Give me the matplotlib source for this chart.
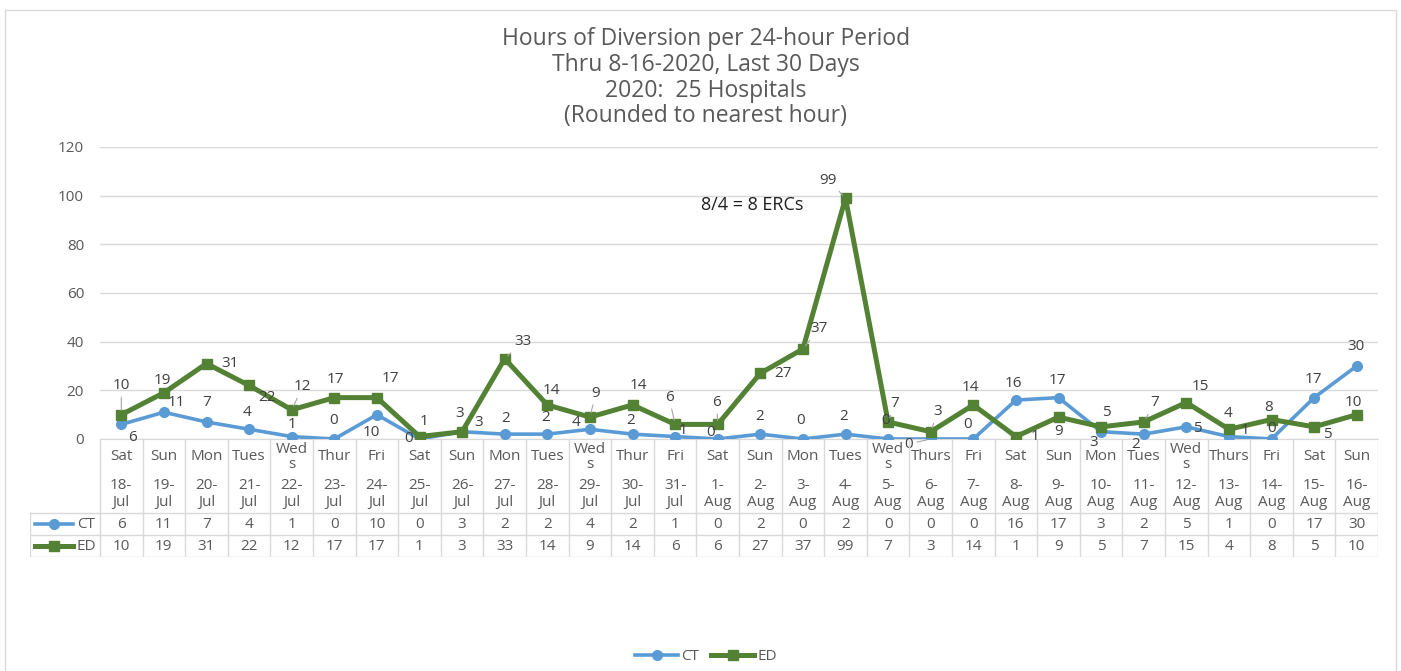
import matplotlib
matplotlib.use('Agg')
from matplotlib import pyplot as plt
from matplotlib.patches import Rectangle

plt.rcParams['font.family'] = ['Open Sans', 'DejaVu Sans']

# data
days = ['Sat', 'Sun', 'Mon', 'Tues', 'Weds', 'Thur', 'Fri', 'Sat', 'Sun', 'Mon',
        'Tues', 'Weds', 'Thur', 'Fri', 'Sat', 'Sun', 'Mon', 'Tues', 'Weds', 'Thurs',
        'Fri', 'Sat', 'Sun', 'Mon', 'Tues', 'Weds', 'Thurs', 'Fri', 'Sat', 'Sun']
dates = ['18-Jul', '19-Jul', '20-Jul', '21-Jul', '22-Jul', '23-Jul', '24-Jul', '25-Jul',
         '26-Jul', '27-Jul', '28-Jul', '29-Jul', '30-Jul', '31-Jul', '1-Aug', '2-Aug',
         '3-Aug', '4-Aug', '5-Aug', '6-Aug', '7-Aug', '8-Aug', '9-Aug', '10-Aug',
         '11-Aug', '12-Aug', '13-Aug', '14-Aug', '15-Aug', '16-Aug']
ct = [6, 11, 7, 4, 1, 0, 10, 0, 3, 2, 2, 4, 2, 1, 0, 2, 0, 2, 0, 0, 0, 16, 17, 3, 2, 5, 1, 0, 17, 30]
ed = [10, 19, 31, 22, 12, 17, 17, 1, 3, 33, 14, 9, 14, 6, 6, 27, 37, 99, 7, 3, 14, 1, 9, 5, 7, 15, 4, 8, 5, 10]

title = ('Hours of Diversion per 24-hour Period\nThru 8-16-2020, Last 30 Days\n'
         '2020:  25 Hospitals\n(Rounded to nearest hour)')
note = '8/4 = 8 ERCs'

# label offsets in pixels (dx right, dy down) as placed in the original chart
ct_off = [(11, 13), (13, -10), (0, -19), (-2, -17), (0, -12), (-1, -19), (-6, 18), (-11, 0),
          (17, -9), (1, -16), (-2, -17), (-14, -7), (-2, -14), (8, -6), (-7, -6), (-1, -18),
          (-2, -18), (-2, -18), (-3, -19), (-22, 5), (-6, -14), (-2, -17), (-1, -17), (-7, 11),
          (-8, 10), (11, 2), (16, -6), (0, -10), (-1, -18), (-1, -19)]
ed_off = [(0, -29), (-1, -12), (24, 0), (18, 12), (11, -23), (1, -18), (14, -19), (5, -15),
          (-2, -18), (18, -17), (4, -14), (6, -24), (6, -19), (-6, -27), (-1, -22), (23, 0),
          (16, -20), (-17, -18), (7, -18), (7, -20), (-3, -17), (19, 0), (0, 14), (5, -14),
          (11, -19), (14, -16), (-1, -16), (-3, -12), (13, 8), (-3, -12)]
ct_leaders = {19}
ed_leaders = {0, 4, 9, 11, 13, 14, 16, 17, 18, 19, 24}

blue = '#5b9bd5'
green = '#548235'
grid = '#d9d9d9'
txt = '#595959'
fs = 11

W, H = 1401, 671
fig = plt.figure(figsize=(W / 100, H / 100), dpi=100)

# chart border
fig.patches.append(Rectangle((5 / W, -0.05), 1391 / W, 1 - 10 / H + 0.05,
                             transform=fig.transFigure, fill=False, edgecolor=grid, lw=1))

fig.text(706 / W, 1 - 27 / H, title, ha='center', va='top', fontsize=16.5,
         color=txt, linespacing=1.1)

ax = fig.add_axes([100 / W, 1 - 439 / H, 1278 / W, 292 / H])
n = len(ct)
x = list(range(n))
ax.set_xlim(-0.5, n - 0.5)
ax.set_ylim(0, 120)
ax.set_yticks(range(0, 121, 20))
ax.set_xticks([])
ax.tick_params(axis='y', length=0, pad=11.5, labelsize=fs, labelcolor=txt)
for s in ['top', 'right', 'left']:
    ax.spines[s].set_visible(False)
ax.spines['bottom'].set_color(grid)
ax.grid(axis='y', color=grid, lw=1)
ax.set_axisbelow(True)

l_ct, = ax.plot(x, ct, color=blue, lw=2.6, marker='o', ms=7, label='CT', zorder=3)
l_ed, = ax.plot(x, ed, color=green, lw=3.6, marker='s', ms=7, label='ED', zorder=4)


def put_labels(vals, offs, leaders):
    for i, v in enumerate(vals):
        dx, dy = offs[i]
        ap = None
        if i in leaders:
            ap = dict(arrowstyle='-', color='#a6a6a6', lw=0.8, shrinkA=1, shrinkB=3)
        ax.annotate(str(v), (i, v), xytext=(dx, -dy), textcoords='offset pixels',
                    ha='center', va='center', fontsize=fs, color='#404040',
                    arrowprops=ap, zorder=5)


put_labels(ct, ct_off, ct_leaders)
put_labels(ed, ed_off, ed_leaders)

ax.text(14.8, 96.2, note, ha='center', va='center', fontsize=13, color='#1f1f1f', zorder=6)

# data table under the chart
colw = 1278 / n
tb = fig.add_axes([30 / W, 1 - 557 / H, 1348 / W, 118 / H])
left = -0.5 - 70 / colw
tb.set_xlim(left, n - 0.5)
tb.set_ylim(118, 0)
tb.axis('off')
for k in range(n + 1):
    tb.plot([k - 0.5, k - 0.5], [0, 118], color=grid, lw=1)
tb.plot([left, left], [74, 118], color=grid, lw=1)
for yy in [74, 96, 118]:
    tb.plot([left, n - 0.5], [yy, yy], color=grid, lw=1)

for i in range(n):
    tb.text(i, 18, days[i].replace('Weds', 'Wed\ns'), ha='center', va='center',
            fontsize=fs, color=txt, linespacing=1.05)
    tb.text(i, 55, dates[i].replace('-', '-\n'), ha='center', va='center',
            fontsize=fs, color=txt, linespacing=1.15)
    tb.text(i, 85, str(ct[i]), ha='center', va='center', fontsize=fs, color=txt)
    tb.text(i, 107, str(ed[i]), ha='center', va='center', fontsize=fs, color=txt)

x0 = left + 5 / colw
x1 = left + 43 / colw
tb.plot([x0, x1], [85, 85], color=blue, lw=2.6)
tb.plot([(x0 + x1) / 2], [85], color=blue, marker='o', ms=7)
tb.plot([x0, x1], [107, 107], color=green, lw=3.6)
tb.plot([(x0 + x1) / 2], [107], color=green, marker='s', ms=7)
tb.text(left + 47 / colw, 85, 'CT', ha='left', va='center', fontsize=fs, color=txt)
tb.text(left + 47 / colw, 107, 'ED', ha='left', va='center', fontsize=fs, color=txt)

fig.legend(handles=[l_ct, l_ed], loc='center', bbox_to_anchor=(706 / W, 1 - 657 / H),
           ncol=2, frameon=False, fontsize=fs, labelcolor=txt, handlelength=2.8,
           handletextpad=0.2, columnspacing=0.8)

fig.savefig('out.png', dpi=100, facecolor='white')
